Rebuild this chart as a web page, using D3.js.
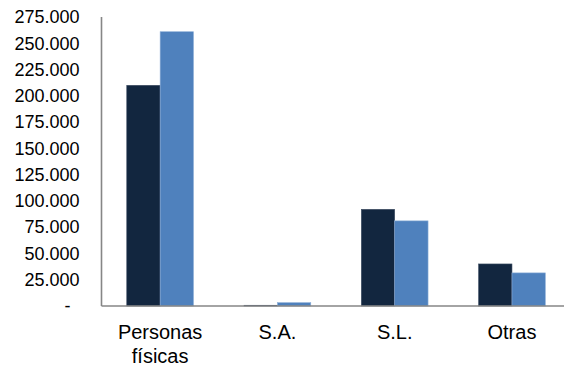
<!DOCTYPE html>
<html>
<head>
<meta charset="utf-8">
<script src="https://cdn.jsdelivr.net/npm/d3@7"></script>
<style>
  html, body { margin: 0; padding: 0; background: #fff; }
  svg { display: block; font-family: "Liberation Sans", Arial, sans-serif; }
</style>
</head>
<body>
<svg id="chart" width="564" height="367"></svg>
<script>
// Categories (x axis), multi-line labels split by "\n"
const categories = ["Personas\nfísicas", "S.A.", "S.L.", "Otras"];
// Two series, one value per category
const seriesA = [210000, 700, 92000, 40000];
const seriesB = [261000, 3200, 81000, 31500];
const seriesColors = ["#12263f", "#4f81bd"];
// Y tick values
const yTicks = [0, 25000, 50000, 75000, 100000, 125000, 150000, 175000, 200000, 225000, 250000, 275000];

const svg = d3.select("#chart");

const plotLeft = 101.5, plotRight = 570.6, plotTop = 17, plotBottom = 306;

const y = d3.scaleLinear().domain([0, 275000]).range([plotBottom, plotTop]);
const x = d3.scaleBand().domain(categories).range([plotLeft, plotRight])
  .paddingInner(0.431).paddingOuter(0.2155);
const xs = d3.scaleBand().domain([0, 1]).range([0, x.bandwidth()]).padding(0);

const locale = d3.formatLocale({ decimal: ",", thousands: ".", grouping: [3], currency: ["", " €"] });
const fmt = locale.format(",d");

// Bars
const series = [seriesA, seriesB];
series.forEach((vals, si) => {
  svg.append("g").selectAll("rect")
    .data(vals)
    .join("rect")
    .attr("x", (d, i) => x(categories[i]) + xs(si))
    .attr("width", xs.bandwidth())
    .attr("y", d => y(d))
    .attr("height", d => y(0) - y(d))
    .attr("fill", seriesColors[si])
    .attr("stroke", si === 0 ? "#3c4c62" : "#8fb0d8")
    .attr("stroke-width", 0.6);
});

// Y axis
const yAxis = d3.axisLeft(y).tickValues(yTicks).tickSize(0).tickPadding(22)
  .tickFormat(d => d === 0 ? "-" : fmt(d));
const gy = svg.append("g").attr("transform", `translate(${plotLeft},0)`).call(yAxis);
gy.select(".domain").attr("stroke", "#868686").attr("stroke-width", 1.6).attr("d", `M0,${plotTop}V${plotBottom}`);
gy.selectAll("text").attr("font-size", 18).attr("fill", "#000")
  .attr("font-family", "Liberation Sans, Arial, sans-serif");
gy.selectAll(".tick").filter(d => d === 0).select("text").attr("dx", "-9");

// X axis line
svg.append("line")
  .attr("x1", plotLeft).attr("x2", 564)
  .attr("y1", y(0)).attr("y2", y(0))
  .attr("stroke", "#868686").attr("stroke-width", 1.6);

// X labels
const xl = svg.append("g").selectAll("text")
  .data(categories)
  .join("text")
  .attr("x", d => x(d) + x.bandwidth() / 2)
  .attr("y", 339)
  .attr("text-anchor", "middle")
  .attr("font-size", 20)
  .attr("fill", "#000");
xl.each(function(d) {
  const lines = d.split("\n");
  d3.select(this).selectAll("tspan").data(lines).join("tspan")
    .attr("x", x(d) + x.bandwidth() / 2)
    .attr("dy", (l, i) => i === 0 ? 0 : 24)
    .text(l => l);
});
</script>
</body>
</html>
